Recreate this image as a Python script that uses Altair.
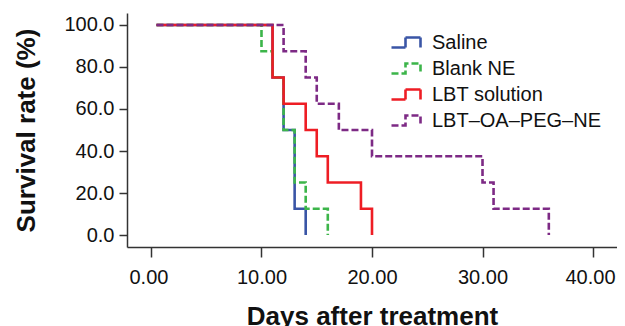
import altair as alt
import pandas as pd

groups = ["Saline", "Blank NE", "LBT solution", "LBT\u2013OA\u2013PEG\u2013NE"]
colors = ["#3a55a6", "#3cb54a", "#ee1d24", "#7d2a85"]
dashes = [[1, 0], [7, 3], [1, 0], [7, 3]]

saline_days = [0.5, 11, 12, 13, 14]
saline_surv = [100, 75, 50, 12.5, 0]
blank_days = [0.5, 10, 11, 12, 13, 14, 16]
blank_surv = [100, 87.5, 75, 50, 25, 12.5, 0]
lbt_days = [0.5, 11, 12, 14, 15, 16, 19, 20]
lbt_surv = [100, 75, 62.5, 50, 37.5, 25, 12.5, 0]
ne_days = [0.5, 12, 14, 15, 17, 20, 30, 31, 36]
ne_surv = [100, 87.5, 75, 62.5, 50, 37.5, 25, 12.5, 0]

x_ticks = [0, 10, 20, 30, 40]
y_ticks = [0, 20, 40, 60, 80, 100]

rows = []
for g, ds, ss in zip(groups, [saline_days, blank_days, lbt_days, ne_days],
                     [saline_surv, blank_surv, lbt_surv, ne_surv]):
    for d, s in zip(ds, ss):
        rows.append({"group": g, "day": d, "surv": s})
df = pd.DataFrame(rows)

step_path = "M-1.5,0.5H-0.1V-0.5H1.4V0.5"

legend_opts = dict(title=None, orient="none", legendX=268, legendY=18,
                   symbolType=step_path, symbolSize=400,
                   symbolStrokeWidth=2.6, labelFontSize=20,
                   labelFont="Liberation Sans", labelColor="#111",
                   labelOffset=14, labelLimit=300,
                   symbolFillColor="transparent")

chart = alt.Chart(df).mark_line(interpolate="step-after", strokeWidth=2.6).encode(
    x=alt.X("day:Q", scale=alt.Scale(domain=[-2.17, 42.17], nice=False, zero=False),
            axis=alt.Axis(values=x_ticks, format=".2f", title="Days after treatment",
                          grid=False, tickSize=10, labelPadding=10, titlePadding=16,
                          labelFlush=30, labelFlushOffset=22)),
    y=alt.Y("surv:Q", scale=alt.Scale(domain=[-5.7, 105.7], nice=False, zero=False),
            axis=alt.Axis(values=y_ticks, format=".1f", title="Survival rate (%)",
                          grid=False, tickSize=8, labelPadding=5, titlePadding=24)),
    color=alt.Color("group:N", scale=alt.Scale(domain=groups, range=colors),
                    legend=alt.Legend(**legend_opts)),
    strokeDash=alt.StrokeDash("group:N", scale=alt.Scale(domain=groups, range=dashes),
                              legend=alt.Legend(**legend_opts)),
    detail="group:N",
).properties(
    width=490, height=234,
    autosize=alt.AutoSizeParams(type="none"),
    padding={"left": 119, "top": 5, "right": 0, "bottom": 88},
).configure_axis(
    labelFont="Liberation Sans", labelFontSize=20, labelColor="#111",
    titleFont="Liberation Sans", titleFontSize=26, titleFontWeight="bold", titleColor="#111",
    domainColor="#333", tickColor="#333", domainWidth=1.5, tickWidth=1.5,
).configure_legend(
    rowPadding=4,
).configure_view(stroke=None)

chart.save("out.html", embed_options={"renderer": "svg", "actions": False})
